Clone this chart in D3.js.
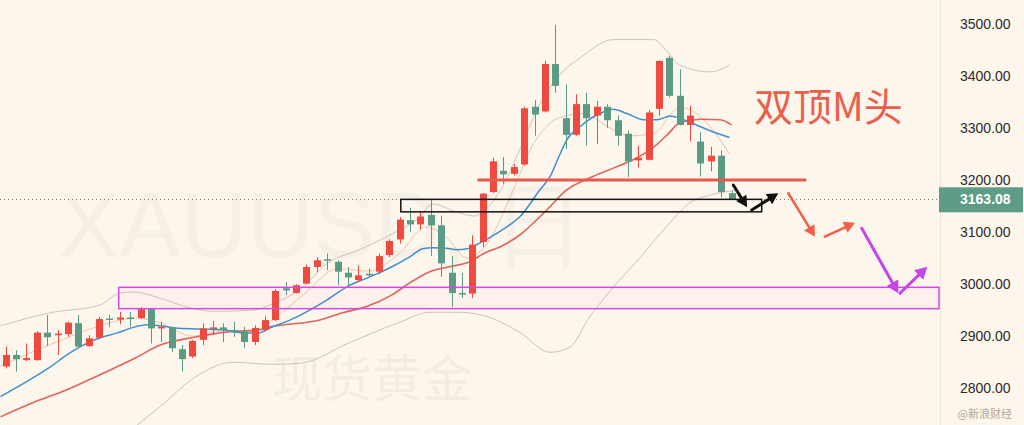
<!DOCTYPE html>
<html><head><meta charset="utf-8">
<script src="https://cdn.jsdelivr.net/npm/d3@7"></script>
<style>
html,body{margin:0;padding:0;background:#fdf6ec;}
svg{display:block;}
</style></head><body>
<svg id="c" width="1024" height="425"></svg>
<script>
// ---- data (daily XAUUSD candles) ----
const openP  = [2842,2864,2854,2854,2907,2902,2904,2925,2881,2897,2934,2932,2936,2935,2952,2915,2917,2875,2861,2893,2914,2917,2912,2909,2889,2912,2931,2992,2983,3001,3033,3048,3043,3022,3008,3020,3024,3056,3086,3123,3115,3133,3113,3022,2983,2982,3081,3177,3218,3212,3230,3341,3332,3423,3319,3287,3346,3324,3341,3315,3289,3238,3239,3337,3435,3362,3306,3274,3236,3247,3175];
const highP  = [2880,2873,2886,2910,2941,2912,2928,2941,2902,2937,2941,2947,2947,2956,2953,2928,2918,2883,2893,2925,2929,2925,2928,2918,2921,2939,2991,3004,3000,3038,3052,3059,3046,3033,3036,3030,3059,3086,3129,3147,3140,3164,3132,3054,3022,3094,3175,3243,3244,3231,3341,3354,3429,3498,3384,3365,3368,3352,3346,3324,3295,3266,3335,3430,3439,3413,3343,3292,3264,3257,3180];
const lowP   = [2838,2832,2852,2853,2881,2864,2899,2877,2880,2894,2918,2923,2918,2933,2886,2889,2870,2832,2858,2883,2902,2889,2899,2877,2883,2909,2929,2979,2982,3000,3023,3027,2998,2998,3004,3013,3019,3052,3078,3100,3105,3054,3014,2956,2973,2973,3071,3175,3193,3209,3228,3285,3330,3368,3260,3285,3266,3270,3300,3266,3206,3224,3238,3324,3359,3305,3274,3207,3217,3167,3162];
const closeP = [2864,2856,2858,2907,2898,2905,2926,2880,2896,2933,2932,2936,2933,2952,2915,2918,2877,2856,2891,2915,2917,2912,2907,2889,2916,2931,2987,2988,2998,3033,3046,3045,3024,3013,3017,3017,3054,3083,3124,3115,3130,3113,3040,2983,2980,3076,3174,3236,3211,3225,3338,3326,3423,3381,3287,3346,3319,3341,3315,3285,3236,3243,3330,3429,3362,3306,3324,3232,3247,3177,3163.08];

// blue moving average: [bar index, price]
const maBlue = [[-0.5,2784],[2.3,2816],[4.3,2841],[5.9,2864],[7.2,2880],[9.1,2897],[10.7,2906],[12.5,2918],[13.6,2922],[14.9,2920],[16.3,2916],[18.7,2914],[21.1,2912],[23.1,2906],[24.3,2906],[25.5,2916],[27.4,2931],[31,2970],[32.9,2995],[35.1,3014],[37.3,3034],[39,3053],[40.2,3068],[41.2,3070],[42.5,3069],[43.5,3066],[44.5,3068],[45.7,3079],[47.4,3098],[48.6,3114],[49.6,3130],[51.5,3181],[52.5,3207],[53.5,3252],[54.1,3277],[55.4,3303],[57.3,3328],[58.6,3336],[59.9,3328],[61.5,3316],[62.8,3316],[64.1,3323],[65,3319],[66.6,3306],[68.2,3293],[69.8,3282]];
// red moving average
const maRed = [[-0.5,2745],[2.6,2772],[5.9,2797],[9.1,2826],[12.5,2858],[14.9,2883],[17.9,2897],[19.9,2904],[21.8,2909],[24.3,2912],[25.5,2918],[30.3,2931],[32.5,2945],[34.8,2957],[37.3,2980],[39,3003],[40.9,3024],[42.9,3034],[44.5,3041],[46.4,3062],[47.7,3072],[49.6,3095],[52.2,3143],[54.1,3181],[56.3,3204],[58.6,3223],[60.5,3239],[62.4,3262],[63.8,3287],[65,3310],[67,3317],[68.9,3316],[70,3306]];
// thin short average
const maThin = [[-0.5,2843],[4.3,2884],[9.1,2920],[12.5,2935],[15,2925],[18,2900],[21,2910],[24,2908],[26,2935],[29,2985],[32,3030],[35,3025],[38,3060],[40.5,3110],[42.5,3090],[44.5,3050],[46.5,3080],[48.7,3170],[50.9,3270],[53.2,3318],[55.7,3328],[58.3,3300],[60.2,3285],[62.5,3290],[65,3340],[66.8,3325],[68.8,3280],[69.8,3250]];
// bollinger upper / lower
const bandUp = [[-0.5,2920],[4.3,2945],[9.1,2960],[11,2983],[12.3,2985],[14.9,2973],[17.5,2956],[20,2948],[23.9,2950],[25.8,2963],[28.4,2990],[31,3040],[34.2,3067],[37.3,3097],[39.7,3125],[41.2,3154],[43.3,3140],[45.1,3131],[47.7,3180],[49.6,3260],[51.5,3346],[53.8,3410],[55.4,3435],[58.6,3470],[62.5,3470],[63.8,3447],[65,3421],[67.9,3408],[69.8,3421]];
const bandLow = [[12,2718],[14.9,2765],[18.7,2827],[21.9,2850],[25.8,2846],[28.4,2848],[33.2,2888],[38,2927],[40.9,2946],[43.8,2946],[46.7,2936],[49.6,2907],[52.5,2869],[54.4,2879],[56.3,2937],[58.2,2985],[61.2,3052],[64.1,3119],[66,3157],[67.9,3171],[70.3,3180]];

const priceTicks = [2800,2900,3000,3100,3200,3300,3400,3500];
const lastPrice = 3163.08;

// annotation levels
const resistLine = {i0:45.5, i1:77.2, v:3200};
const blackBox = {i0:38.1, i1:72.9, v0:3139, v1:3163};
const purpleBox = {i0:10.9, i1:90.0, v0:2953, v1:2994};
const blackArrows = [[[70.16,3190.6],[71.5,3148]],[[71.94,3142.6],[74.5,3174.7]]];
const redArrows = [[[75.47,3174.7],[78.04,3091.3]],[[79.0,3091.3],[81.9,3118.2]]];
const purpleArrows = [[[82.55,3107.4],[86.08,2982.5]],[[86.24,2982.5],[88.87,3033.6]]];

// ---- drawing ----
const svg = d3.select('#c');
const x = d3.scaleLinear().domain([0,70]).range([5.7,731.6]);
const y = d3.scaleLinear().domain([2729.4,3546.1]).range([425,0]);

svg.append('rect').attr('width',1024).attr('height',425).attr('fill','#fdf6ec');

// watermark
svg.append('text').attr('x',58).attr('y',257).attr('font-family','Liberation Sans, Arial, sans-serif')
  .attr('font-size',92).attr('fill','#f6efe5').text('XAUUSD, 日');
svg.append('text').attr('x',272).attr('y',397).attr('font-family','Noto Sans CJK SC, sans-serif')
  .attr('font-size',50).attr('fill','#f4ece1').text('现货黄金');

const line = d3.line().x(d=>x(d[0])).y(d=>y(d[1])).curve(d3.curveMonotoneX);
svg.append('path').datum(bandUp).attr('d',line).attr('fill','none').attr('stroke','#cfc3b6').attr('stroke-width',1);
svg.append('path').datum(bandLow).attr('d',line).attr('fill','none').attr('stroke','#cfc3b6').attr('stroke-width',1);
svg.append('path').datum(maThin).attr('d',line).attr('fill','none').attr('stroke','#efc3a6').attr('stroke-width',1);
svg.append('path').datum(maRed).attr('d',line).attr('fill','none').attr('stroke','#e0645a').attr('stroke-width',1.6);
svg.append('path').datum(maBlue).attr('d',line).attr('fill','none').attr('stroke','#3f8fd2').attr('stroke-width',1.5);

// candles
const idx = d3.range(openP.length);
const red = '#ef4a3f', green = '#5b9b85';
const col = i => closeP[i] >= openP[i] ? red : green;
const g = svg.append('g');
g.selectAll('line.w').data(idx).join('line').attr('class','w')
  .attr('x1',i=>Math.round(x(i))+0.5).attr('x2',i=>Math.round(x(i))+0.5)
  .attr('y1',i=>y(highP[i])).attr('y2',i=>y(lowP[i])).attr('stroke',col).attr('stroke-width',1);
g.selectAll('rect.b').data(idx).join('rect').attr('class','b')
  .attr('x',i=>Math.round(x(i))-3).attr('width',7)
  .attr('y',i=>y(Math.max(openP[i],closeP[i])))
  .attr('height',i=>Math.max(1.5, Math.abs(y(openP[i])-y(closeP[i]))))
  .attr('fill',col);

// last price dotted line
svg.append('line').attr('x1',0).attr('x2',940).attr('y1',Math.round(y(lastPrice))+0.5).attr('y2',Math.round(y(lastPrice))+0.5)
  .attr('stroke','#7a7a7a').attr('stroke-width',1).attr('stroke-dasharray','1,3');

// boxes
svg.append('rect').attr('x',x(purpleBox.i0)).attr('width',x(purpleBox.i1)-x(purpleBox.i0))
  .attr('y',y(purpleBox.v1)).attr('height',y(purpleBox.v0)-y(purpleBox.v1))
  .attr('fill','rgba(225,120,230,0.035)').attr('stroke','#d44ae0').attr('stroke-width',1.5);
svg.append('rect').attr('x',x(blackBox.i0)).attr('width',x(blackBox.i1)-x(blackBox.i0))
  .attr('y',y(blackBox.v1)).attr('height',y(blackBox.v0)-y(blackBox.v1))
  .attr('fill','none').attr('stroke','#111').attr('stroke-width',1.5);
svg.append('line').attr('x1',x(resistLine.i0)).attr('x2',x(resistLine.i1))
  .attr('y1',y(resistLine.v)).attr('y2',y(resistLine.v)).attr('stroke','#e8594d').attr('stroke-width',3);

// arrows
function arrow(a,color,w,head){
  const x1=x(a[0][0]),y1=y(a[0][1]),x2=x(a[1][0]),y2=y(a[1][1]);
  const ang=Math.atan2(y2-y1,x2-x1);
  const bx=x2-head*Math.cos(ang), by=y2-head*Math.sin(ang);
  svg.append('line').attr('x1',x1).attr('y1',y1).attr('x2',bx).attr('y2',by)
    .attr('stroke',color).attr('stroke-width',w).attr('stroke-linecap','round');
  const hw=head*0.55;
  const p=[[x2,y2],[bx+hw*Math.sin(ang),by-hw*Math.cos(ang)],[bx-hw*Math.sin(ang),by+hw*Math.cos(ang)]];
  svg.append('polygon').attr('points',p.map(q=>q.join(',')).join(' ')).attr('fill',color);
}
blackArrows.forEach(a=>arrow(a,'#111',3,11));
redArrows.forEach(a=>arrow(a,'#f0604a',2.5,11));
purpleArrows.forEach(a=>arrow(a,'#c545e6',3,12));

// title
svg.append('text').attr('x',754).attr('y',121).attr('font-family','Noto Sans CJK SC, sans-serif')
  .attr('font-size',39).attr('fill','#e8604c').text('双顶M头');

// right axis
svg.append('line').attr('x1',940.5).attr('x2',940.5).attr('y1',0).attr('y2',425).attr('stroke','#efe6da');
const ax = svg.append('g').attr('transform','translate(960,0)')
  .call(d3.axisRight(y).tickValues(priceTicks).tickFormat(d3.format('.2f')).tickSize(0).tickPadding(0));
ax.select('.domain').remove();
ax.selectAll('text').attr('font-family','Liberation Sans, Arial, sans-serif').attr('font-size',14).attr('fill','#2c2c2c');

// last price label
svg.append('rect').attr('x',939).attr('y',y(lastPrice)-12).attr('width',84).attr('height',25).attr('fill','#5e9c87');
svg.append('text').attr('x',960).attr('y',y(lastPrice)+5).attr('font-family','Liberation Sans, Arial, sans-serif')
  .attr('font-size',14).attr('font-weight','bold').attr('fill','#ffffff').text(d3.format('.2f')(lastPrice));

// source mark
svg.append('text').attr('x',1012).attr('y',418).attr('text-anchor','end').attr('font-family','Noto Sans CJK SC, sans-serif')
  .attr('font-size',11).attr('fill','#9a948c').attr('opacity',0.8).text('@新浪财经');
</script>
</body></html>
